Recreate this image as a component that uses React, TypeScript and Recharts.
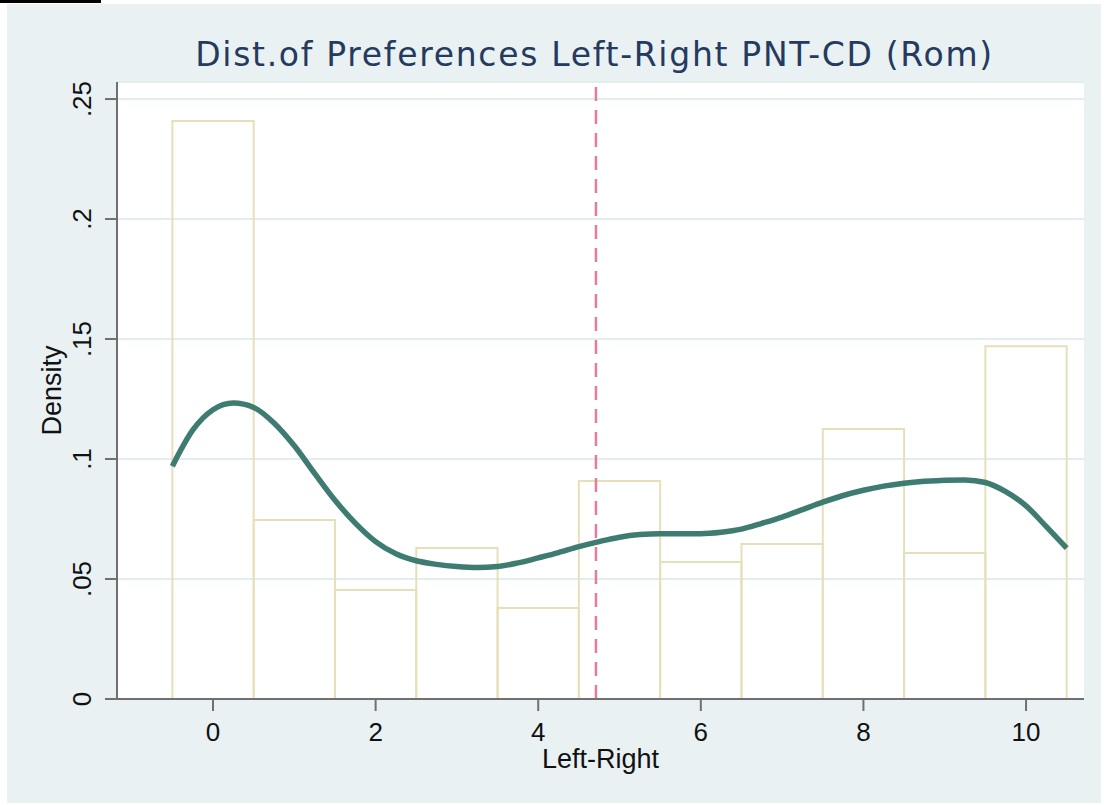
import {
  ComposedChart,
  Line,
  XAxis,
  YAxis,
  CartesianGrid,
  ReferenceArea,
  ReferenceLine,
  Label,
} from 'recharts';

// histogram: unit-width bins centred on each score
const BIN_CENTERS = [0, 1, 2, 3, 4, 5, 6, 7, 8, 9, 10];
const BIN_DENSITY = [0.2408, 0.0746, 0.0454, 0.0629, 0.0379, 0.0908, 0.0571, 0.0646, 0.1125, 0.0608, 0.147];

// kernel density estimate
const KDE_X = [
  -0.5, -0.25, 0, 0.25, 0.5, 0.75, 1, 1.25, 1.5, 1.75, 2, 2.25, 2.5, 2.75, 3, 3.25, 3.5, 3.75, 4, 4.25, 4.5,
  4.75, 5, 5.25, 5.5, 5.75, 6, 6.25, 6.5, 6.75, 7, 7.25, 7.5, 7.75, 8, 8.25, 8.5, 8.75, 9, 9.25, 9.5, 9.75,
  10, 10.25, 10.5,
];
const KDE_Y = [
  0.097, 0.112, 0.1205, 0.1233, 0.1215, 0.115, 0.1055, 0.094, 0.0828, 0.0733, 0.0656, 0.0605, 0.0576, 0.0561,
  0.0552, 0.0548, 0.0552, 0.0567, 0.0588, 0.061, 0.0635, 0.0656, 0.0674, 0.0685, 0.0689, 0.0689, 0.0689,
  0.0695, 0.0708, 0.0732, 0.0758, 0.0789, 0.082, 0.0848, 0.087, 0.0887, 0.0899, 0.0907, 0.0912, 0.0913,
  0.0902, 0.0864, 0.0805, 0.0718, 0.0629,
];

const MEAN_SCORE = 4.71;

const X_TICKS = [0, 2, 4, 6, 8, 10];
const Y_TICKS = [0, 0.05, 0.1, 0.15, 0.2, 0.25];

const TITLE = 'Dist.of Preferences Left-Right PNT-CD (Rom)';
const X_TITLE = 'Left-Right';
const Y_TITLE = 'Density';

const FONT = '"Liberation Sans", Arial, Helvetica, sans-serif';
const TITLE_FONT = '"DejaVu Sans", Verdana, sans-serif';
const PANEL_BG = '#EAF1F3';
const AXIS = '#707070';
const TEXT = '#111';

const data = KDE_X.map((x, i) => ({ x, density: KDE_Y[i] }));

// Stata-style density labels: ".05" instead of "0.05"
const fmtDensity = (v: number) => (v === 0 ? '0' : String(v).replace(/^0/, ''));

function YTick({ x, y, payload }: any) {
  return (
    <text
      x={x}
      y={y}
      transform={`rotate(-90, ${x}, ${y})`}
      textAnchor="middle"
      fontSize={26}
      fontFamily={FONT}
      fill={TEXT}
    >
      {fmtDensity(payload.value)}
    </text>
  );
}

export default function App() {
  return (
    <div style={{ position: 'absolute', left: 0, top: 0, width: 1104, height: 805, background: '#fff' }}>
      <div style={{ position: 'absolute', left: 0, top: 0, width: 101, height: 3, background: '#000' }} />
      <div
        style={{
          position: 'absolute',
          left: 7,
          top: 4,
          width: 1094,
          height: 799,
          background: PANEL_BG,
        }}
      >
        <div
          style={{
            position: 'absolute',
            left: 104,
            top: 32,
            width: 967,
            textAlign: 'center',
            fontFamily: TITLE_FONT,
            fontSize: 33,
            letterSpacing: 1.7,
            lineHeight: '38px',
            color: '#243A5E',
            whiteSpace: 'nowrap',
          }}
        >
          {TITLE}
        </div>
        <ComposedChart
          width={1094}
          height={799}
          data={data}
          margin={{ top: 78, right: 17, left: 0, bottom: 0 }}
        >
          <CartesianGrid vertical={false} stroke="#E3EDEE" strokeWidth={2} fill="#ffffff" />
          <XAxis
            dataKey="x"
            type="number"
            domain={[-1.181, 10.713]}
            allowDataOverflow
            ticks={X_TICKS}
            height={104}
            tickSize={12}
            tickMargin={12}
            stroke={AXIS}
            strokeWidth={2}
            tick={{ fontSize: 26, fontFamily: FONT, fill: TEXT }}
          >
            <Label
              value={X_TITLE}
              position="insideBottom"
              offset={35}
              style={{ fontSize: 27, fontFamily: FONT, fill: TEXT }}
            />
          </XAxis>
          <YAxis
            type="number"
            domain={[0, 0.2571]}
            allowDataOverflow
            ticks={Y_TICKS}
            width={110}
            tickSize={12}
            tickMargin={14}
            stroke={AXIS}
            strokeWidth={2}
            tick={<YTick />}
          >
            <Label
              value={Y_TITLE}
              angle={-90}
              position="insideLeft"
              offset={44}
              style={{ fontSize: 27, fontFamily: FONT, fill: TEXT, textAnchor: 'middle' }}
            />
          </YAxis>
          {BIN_CENTERS.map((c, i) => (
            <ReferenceArea
              key={c}
              x1={c - 0.5}
              x2={c + 0.5}
              y1={0}
              y2={BIN_DENSITY[i]}
              fill="none"
              stroke="#E6E0BA"
              strokeWidth={2}
              ifOverflow="visible"
            />
          ))}
          <ReferenceLine x={MEAN_SCORE} stroke="#E27D9C" strokeWidth={2.5} strokeDasharray="14 9" />
          <Line
            dataKey="density"
            type="monotone"
            stroke="#3E7C72"
            strokeWidth={5.5}
            dot={false}
            activeDot={false}
            isAnimationActive={false}
          />
        </ComposedChart>
      </div>
    </div>
  );
}
